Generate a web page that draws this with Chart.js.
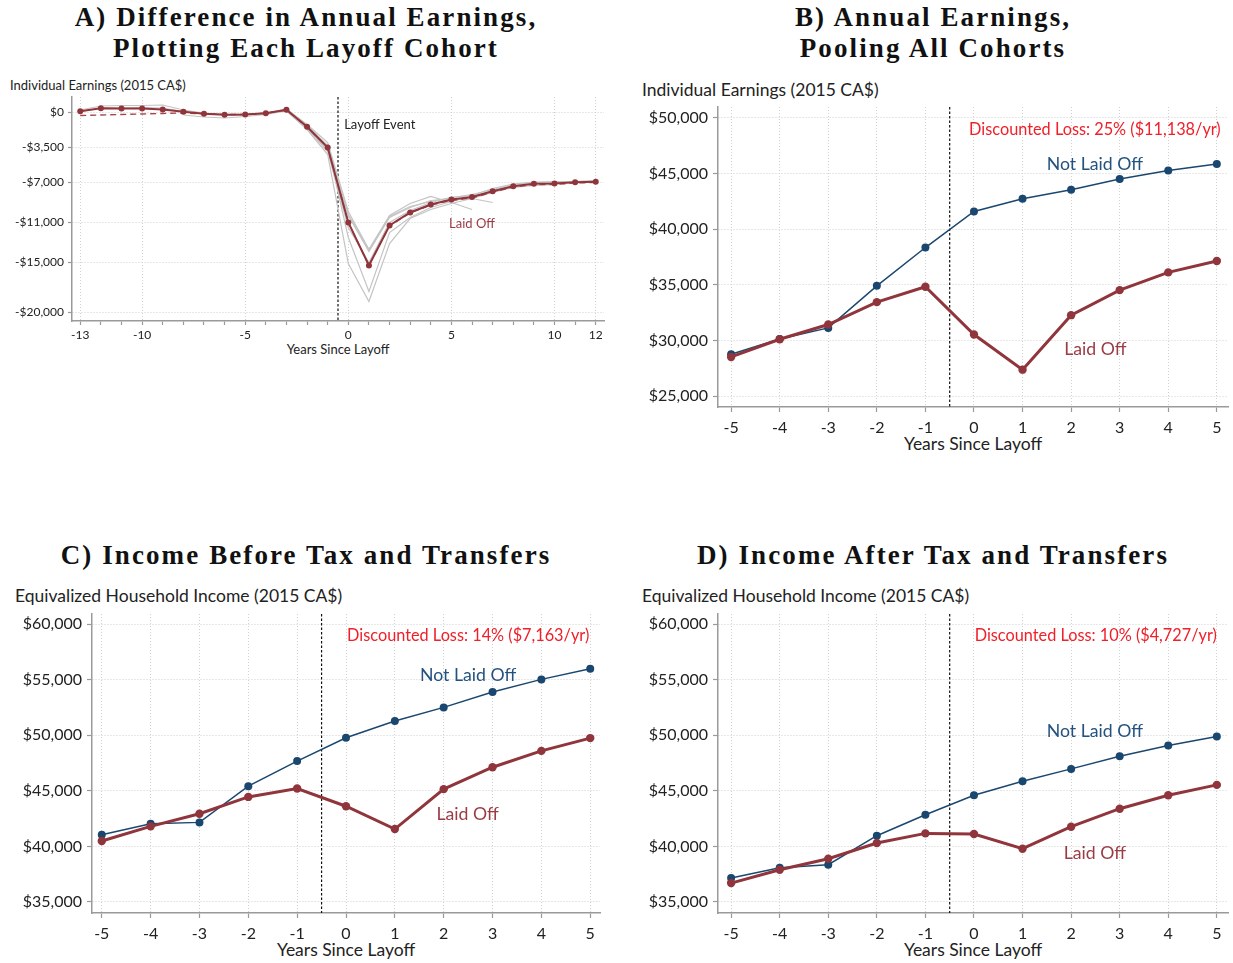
<!DOCTYPE html>
<html><head><meta charset="utf-8">
<script src="https://cdn.jsdelivr.net/npm/chart.js@4.4.0/dist/chart.umd.min.js"></script>
<style>
body{margin:0;background:#fff;width:1233px;height:963px;position:relative;overflow:hidden;font-family:Lato,sans-serif;}
.t{position:absolute;font-family:"Liberation Serif",serif;font-weight:bold;font-size:27px;text-align:center;line-height:31px;color:#111;letter-spacing:2.1px;white-space:nowrap;}
.yt{position:absolute;font-family:Lato,sans-serif;color:#222;white-space:nowrap;}
.xt{position:absolute;font-family:Lato,sans-serif;color:#222;text-align:center;white-space:nowrap;}
canvas{position:absolute;}
</style></head><body>

<div class="t" style="left:6px;top:2px;width:600px;">A) Difference in Annual Earnings,<br>Plotting Each Layoff Cohort</div>
<div class="t" style="left:633px;top:2px;width:600px;">B) Annual Earnings,<br>Pooling All Cohorts</div>
<div class="t" style="left:6px;top:540px;width:600px;">C) Income Before Tax and Transfers</div>
<div class="t" style="left:633px;top:540px;width:600px;">D) Income After Tax and Transfers</div>

<div class="yt" style="left:10px;top:77px;font-size:13px;line-height:16px;">Individual Earnings (2015 CA$)</div>
<div class="yt" style="left:642px;top:80px;font-size:17.5px;line-height:20px;">Individual Earnings (2015 CA$)</div>
<div class="yt" style="left:15px;top:586px;font-size:17.5px;line-height:20px;">Equivalized Household Income (2015 CA$)</div>
<div class="yt" style="left:642px;top:586px;font-size:17.5px;line-height:20px;">Equivalized Household Income (2015 CA$)</div>

<div class="xt" style="left:238px;top:341px;width:200px;font-size:13px;line-height:16px;">Years Since Layoff</div>
<div class="xt" style="left:873px;top:434px;width:200px;font-size:17.5px;line-height:20px;">Years Since Layoff</div>
<div class="xt" style="left:246px;top:940px;width:200px;font-size:17.5px;line-height:20px;">Years Since Layoff</div>
<div class="xt" style="left:873px;top:940px;width:200px;font-size:17.5px;line-height:20px;">Years Since Layoff</div>

<canvas id="cA" width="615" height="280" style="left:0px;top:85px;"></canvas>
<canvas id="cB" width="610" height="365" style="left:630px;top:100px;"></canvas>
<canvas id="cC" width="620" height="358" style="left:0px;top:605px;"></canvas>
<canvas id="cD" width="610" height="358" style="left:630px;top:605px;"></canvas>

<script>
// ---------- Panel A data ----------
const yearsA = [-13,-12,-11,-10,-9,-8,-7,-6,-5,-4,-3,-2,-1,0,1,2,3,4,5,6,7,8,9,10,11,12];
const laidOffA = [130,430,400,400,300,70,-130,-230,-200,-70,270,-1430,-3500,-11000,-15300,-11300,-10000,-9200,-8700,-8450,-7870,-7370,-7130,-7100,-6970,-6930];
const trendA = [-300,-250,-200,-150,-100,-50,-130,-200,-200,-70,250,-1450,-3500,-11000,-15300,-11300,-10050,-9250,-8800,-8550,-7950,-7450,-7200,-7200,-7050,-7000];
const cohort1 = [250,650,700,700,750,250,-50,-200,-150,-50,350,-1200,-3000,-9900,-13700,-10300,-9100,-8400,-9000,-9700,null,null,null,null,null,null];
const cohort2 = [100,450,450,500,450,100,-100,-200,-200,-50,200,-1500,-3800,-10300,-13900,-10500,-9500,-8800,-8600,-8600,-9000,null,null,null,null,null];
const cohort3 = [null,null,null,null,null,-250,-450,-550,-400,-200,150,-1700,-4200,-15100,-18900,-13100,-10600,-9700,-9100,-8600,-8000,-7500,-7300,-7200,null,null];
const cohort4 = [null,null,null,null,null,null,null,-300,-250,-100,250,-1400,-3400,-12500,-17900,-12000,-10500,-9500,-8900,-8400,-7800,-7300,-7100,-7000,-6950,null];
const cohort5 = [null,null,null,null,null,null,null,null,null,-100,300,-1300,-3300,-10200,-13700,-10400,-9400,-8900,-8500,-8200,-7700,-7200,-7000,-6900,-6900,-6850];
const cohort6 = [null,null,null,null,null,null,null,null,null,null,400,-1600,-3900,-11500,-15000,-11000,-9800,-9000,-8500,-8300,-7600,-7150,-6950,-6950,-6900,-6800];
const xTicksA = [-13,-10,-5,0,5,10,12];
const yTicksA = [0,-3500,-7000,-11000,-15000,-20000];

// ---------- Panels B-D data ----------
const yearsB = [-5,-4,-3,-2,-1,0,1,2,3,4,5];
const earnNotLaid = [28770,30150,31140,34910,38350,41590,42730,43540,44490,45270,45840];
const earnLaid = [28530,30120,31440,33450,34830,30540,27390,32280,34530,36120,37140];
const preTaxNotLaid = [41050,42040,42160,45420,47670,49770,51270,52500,53880,55020,55980];
const preTaxLaid = [40480,41800,42940,44450,45200,43610,41560,45150,47120,48590,49740];
const postTaxNotLaid = [37150,38080,38350,40960,42850,44600,45860,46970,48110,49070,49880];
const postTaxLaid = [36700,37900,38890,40300,41170,41110,39790,41770,43390,44600,45530];
const yTicksB = [25000,30000,35000,40000,45000,50000];
const yTicksCD = [35000,40000,45000,50000,55000,60000];

const BLUE = '#1a476f', RED = '#90353b', GRAY = '#c4c4c4';

function pts(xs, ys){ return xs.map((x,i)=>({x:x, y:ys[i]})); }
function money(v){ return (v<0?'-':'') + '$' + Math.abs(v).toLocaleString('en-US'); }

const overlay = {
  id:'overlay',
  beforeDatasetsDraw(chart, args, o){
    const {ctx, chartArea, scales} = chart;
    if (o.vline !== undefined){
      const px = scales.x.getPixelForValue(o.vline);
      ctx.save(); ctx.strokeStyle='#111'; ctx.lineWidth=1.2; ctx.setLineDash([2.5,2]);
      ctx.beginPath(); ctx.moveTo(px, chartArea.top); ctx.lineTo(px, chartArea.bottom); ctx.stroke(); ctx.restore();
    }
  },
  afterDatasetsDraw(chart, args, o){
    const {ctx, scales} = chart;
    (o.notes||[]).forEach(n=>{
      ctx.save(); ctx.font = n.size + 'px Lato'; ctx.fillStyle = n.color;
      ctx.textAlign = n.align; ctx.textBaseline = 'middle';
      ctx.fillText(n.text, scales.x.getPixelForValue(n.x), scales.y.getPixelForValue(n.y));
      ctx.restore();
    });
  }
};

function make(id, p){
  return new Chart(document.getElementById(id), {
    type:'line',
    data:{ datasets:p.datasets },
    plugins:[overlay],
    options:{
      responsive:false, animation:false, devicePixelRatio:1,
      layout:{ padding:{ top:p.padTop, right:p.padRight, left:0, bottom:0 } },
      plugins:{ legend:{display:false}, tooltip:{enabled:false}, overlay:{ vline:-0.5, notes:p.notes } },
      elements:{ line:{ tension:0 } },
      scales:{
        x:{ type:'linear', min:p.xmin, max:p.xmax,
          afterBuildTicks:s=>{ s.ticks = p.xAll.map(v=>({value:v})); },
          afterFit:s=>{ s.height = p.xHeight; s.paddingLeft = 0; s.paddingRight = 0; },
          ticks:{ autoSkip:false, maxRotation:0, padding:p.xPad, color:'#222', font:{family:'Lato', size:p.fs},
            callback:v=> p.xMajor.includes(v) ? String(v) : '' },
          grid:{ color:c=> (c.tick && p.xMajor.includes(c.tick.value)) ? '#d0d0d0' : 'rgba(0,0,0,0)',
            lineWidth:1, drawTicks:true, tickLength:p.tl, tickColor:'#9a9a9a', tickWidth:1.2 },
          border:{ display:true, color:'#9a9a9a', width:1.5, dash:[1,2] }
        },
        y:{ type:'linear', min:p.ymin, max:p.ymax,
          afterBuildTicks:s=>{ s.ticks = p.yTicks.map(v=>({value:v})); },
          afterFit:s=>{ s.width = p.yWidth; s.paddingTop = 0; s.paddingBottom = 0; },
          ticks:{ padding:p.yPad, color:'#222', font:{family:'Lato', size:p.fs}, callback:v=>money(v) },
          grid:{ color:'#d0d0d0', lineWidth:1, drawTicks:true, tickLength:p.tl, tickColor:'#9a9a9a', tickWidth:1.2 },
          border:{ display:true, color:'#9a9a9a', width:1.5, dash:[1,2] }
        }
      }
    }
  });
}

function grayDs(vals){ return { data:pts(yearsA, vals), borderColor:GRAY, borderWidth:1.2, pointRadius:0, spanGaps:false }; }

make('cA', {
  padTop:12, padRight:11, xHeight:44, yWidth:72, xPad:3, yPad:4, tl:4, fs:12,
  xmin:-13.4, xmax:12.4, ymin:-20850, ymax:1550,
  xAll:yearsA, xMajor:xTicksA, yTicks:yTicksA,
  datasets:[
    { data:pts(yearsA, laidOffA), borderColor:RED, borderWidth:2, pointRadius:3, pointBackgroundColor:RED, pointBorderWidth:0 },
    { data:pts(yearsA, trendA), borderColor:'#a8434c', borderWidth:1.4, borderDash:[6,4], pointRadius:0 },
    grayDs(cohort1), grayDs(cohort2), grayDs(cohort3), grayDs(cohort4), grayDs(cohort5), grayDs(cohort6)
  ],
  notes:[
    {x:-0.2, y:-1270, text:'Layoff Event', color:'#222', align:'left', size:13},
    {x:6.0, y:-11170, text:'Laid Off', color:'#9b3b44', align:'center', size:13}
  ]
});

function pair(nl, l){
  return [
    { data:pts(yearsB, l), borderColor:RED, borderWidth:3, pointRadius:4.2, pointBackgroundColor:RED, pointBorderWidth:0 },
    { data:pts(yearsB, nl), borderColor:BLUE, borderWidth:1.5, pointRadius:4, pointBackgroundColor:BLUE, pointBorderWidth:0 }
  ];
}

make('cB', {
  padTop:7, padRight:12, xHeight:58, yWidth:88, xPad:6, yPad:5, tl:5, fs:16,
  xmin:-5.27, xmax:5.23, ymin:24040, ymax:50960,
  xAll:yearsB, xMajor:yearsB, yTicks:yTicksB,
  datasets:pair(earnNotLaid, earnLaid),
  notes:[
    {x:5.08, y:48900, text:'Discounted Loss: 25% ($11,138/yr)', color:'#f0202a', align:'right', size:16.3},
    {x:2.49, y:45860, text:'Not Laid Off', color:'#24527f', align:'center', size:17.7},
    {x:2.5, y:29230, text:'Laid Off', color:'#9b3b44', align:'center', size:17.7}
  ]
});

make('cC', {
  padTop:9, padRight:20, xHeight:50, yWidth:92, xPad:6, yPad:5, tl:5, fs:16,
  xmin:-5.2, xmax:5.2, ymin:34010, ymax:60900,
  xAll:yearsB, xMajor:yearsB, yTicks:yTicksCD,
  datasets:pair(preTaxNotLaid, preTaxLaid),
  notes:[
    {x:4.98, y:58920, text:'Discounted Loss: 14% ($7,163/yr)', color:'#f0202a', align:'right', size:16.3},
    {x:2.5, y:55410, text:'Not Laid Off', color:'#24527f', align:'center', size:17.7},
    {x:2.49, y:42910, text:'Laid Off', color:'#9b3b44', align:'center', size:17.7}
  ]
});

make('cD', {
  padTop:9, padRight:12, xHeight:50, yWidth:88, xPad:6, yPad:5, tl:5, fs:16,
  xmin:-5.27, xmax:5.23, ymin:34010, ymax:60900,
  xAll:yearsB, xMajor:yearsB, yTicks:yTicksCD,
  datasets:pair(postTaxNotLaid, postTaxLaid),
  notes:[
    {x:5.0, y:58920, text:'Discounted Loss: 10% ($4,727/yr)', color:'#f0202a', align:'right', size:16.3},
    {x:2.49, y:50380, text:'Not Laid Off', color:'#24527f', align:'center', size:17.7},
    {x:2.49, y:39410, text:'Laid Off', color:'#9b3b44', align:'center', size:17.7}
  ]
});
</script>
</body></html>
